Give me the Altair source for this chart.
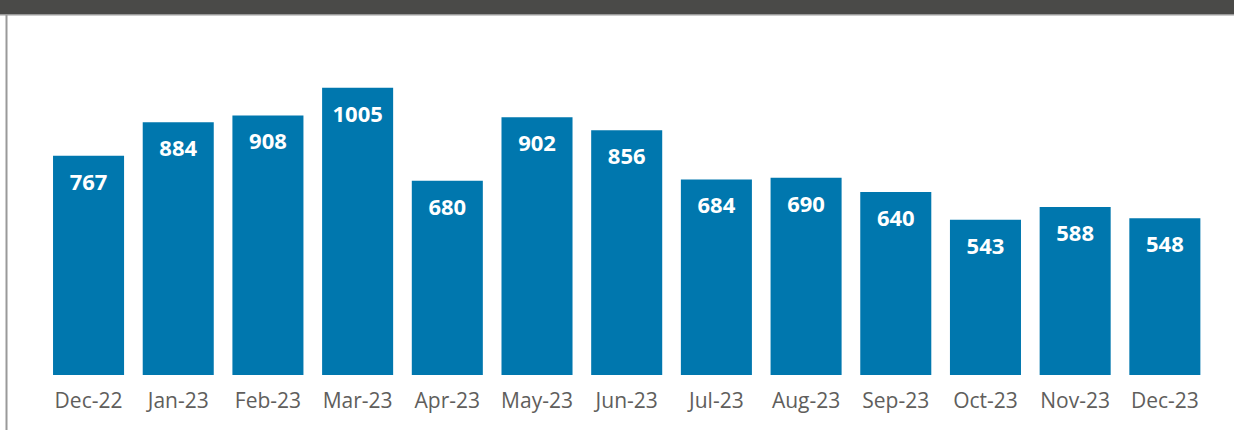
import altair as alt
import pandas as pd

months = ["Dec-22", "Jan-23", "Feb-23", "Mar-23", "Apr-23", "May-23", "Jun-23",
          "Jul-23", "Aug-23", "Sep-23", "Oct-23", "Nov-23", "Dec-23"]
counts = [767, 884, 908, 1005, 680, 902, 856, 684, 690, 640, 543, 588, 548]

df = pd.DataFrame({"month": months, "count": counts})

BAR = "#0077AE"
PLOT_W = 1166
PLOT_H = 343
PAD_L = 43.7
PAD_T = 32

x = alt.X("month:N", sort=months,
          scale=alt.Scale(paddingInner=0.208, paddingOuter=0.104),
          axis=alt.Axis(title=None, labelAngle=0, ticks=False, domain=False,
                        labelFontSize=21, labelColor="#605E5C", labelFont="Open Sans",
                        labelPadding=15))
y = alt.Y("count:Q", scale=alt.Scale(domain=[0, 1200], nice=False),
          axis=None)

bars = alt.Chart(df).mark_bar(color=BAR).encode(x=x, y=y)
labels = alt.Chart(df).mark_text(color="white", font="Open Sans", fontWeight="bold",
                                 fontSize=22, baseline="alphabetic", dy=34).encode(
    x=x, y=y, text="count:Q")

one = pd.DataFrame({"a": [0]})
band = alt.Chart(one).mark_rect(color="#4A4A48").encode(
    x=alt.value(-PAD_L), x2=alt.value(1234 - PAD_L),
    y=alt.value(-PAD_T), y2=alt.value(-PAD_T + 14))
band_line = alt.Chart(one).mark_rect(color="#9A9A9A").encode(
    x=alt.value(-PAD_L), x2=alt.value(1234 - PAD_L),
    y=alt.value(-PAD_T + 14), y2=alt.value(-PAD_T + 15.5))
left_line = alt.Chart(one).mark_rect(color="#9A9A9A").encode(
    x=alt.value(-PAD_L + 5.5), x2=alt.value(-PAD_L + 7.5),
    y=alt.value(-PAD_T + 14), y2=alt.value(430 - PAD_T))

chart = alt.layer(band, band_line, left_line, bars, labels).properties(
    width=PLOT_W, height=PLOT_H,
    autosize=alt.AutoSizeParams(type="none"),
    padding={"left": PAD_L, "top": PAD_T, "right": 1234 - PAD_L - PLOT_W,
             "bottom": 430 - PAD_T - PLOT_H},
    background="white",
).configure_view(stroke=None)

chart.save("out.html", embed_options={"renderer": "svg", "actions": False})
